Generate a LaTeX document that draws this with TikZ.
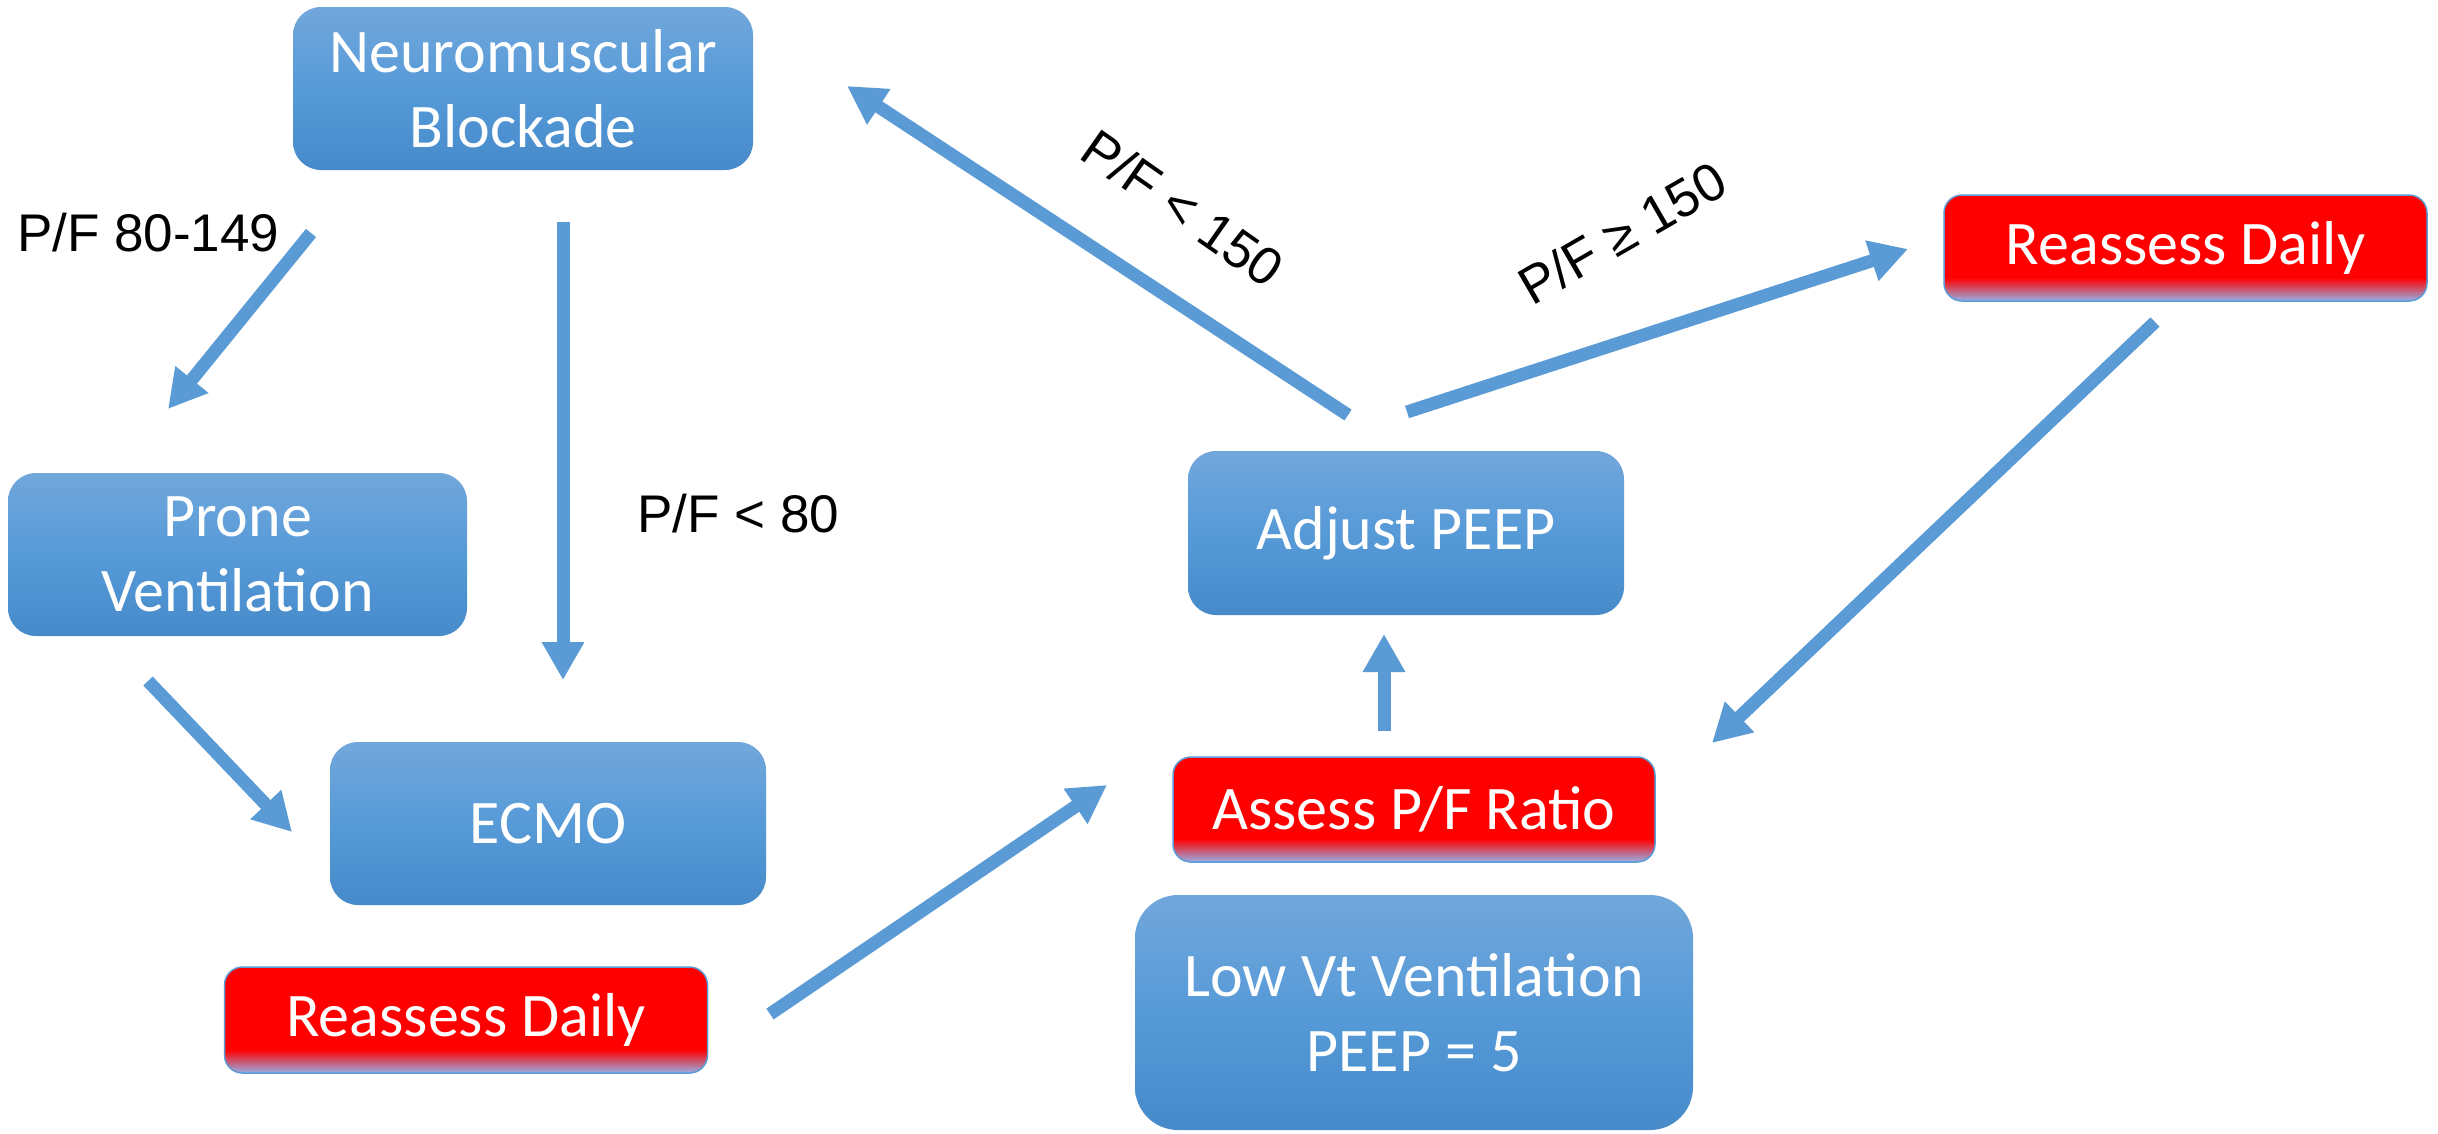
\documentclass[tikz,border=0pt]{standalone}
\usepackage{fontspec}
\setmainfont{Carlito}
\newfontfamily\labelfont{Liberation Sans}
\usetikzlibrary{arrows.meta}
\definecolor{arrowblue}{RGB}{91,155,213}
\definecolor{boxtop}{RGB}{114,167,219}
\definecolor{boxmid}{RGB}{86,154,216}
\definecolor{boxbot}{RGB}{70,138,202}
\definecolor{redbot}{RGB}{150,176,230}
\definecolor{pure red}{RGB}{255,0,0}
\pgfdeclareverticalshading{redfade}{100bp}{color(0bp)=(redbot); color(25bp)=(redbot); color(36bp)=(pure red); color(100bp)=(pure red)}
\begin{document}
\begin{tikzpicture}[x=1pt,y=-1pt,
  bluebox/.style={rectangle, rounded corners=28pt, top color=boxtop, bottom color=boxbot, middle color=boxmid,
    text=white, align=center, font=\fontsize{62}{75}\selectfont, inner sep=0pt},
  redbox/.style={rectangle, rounded corners=18pt, shade, shading=redfade, draw=arrowblue, line width=1.5pt,
    text=white, align=center, font=\fontsize{62}{75}\selectfont, inner sep=0pt},
  flow/.style={draw=arrowblue, line width=13pt, -{Triangle[length=38pt,width=40pt]}},
  lbl/.style={font=\labelfont\fontsize{53}{60}\selectfont, inner sep=0pt}]
\fill[white] (0,0) rectangle (2438,1133);
\useasboundingbox (0,0) rectangle (2438,1133);

% boxes
\node[bluebox, minimum width=460pt, minimum height=163pt] (nmb) at (523,88.5) {Neuromuscular\\Blockade};
\node[bluebox, minimum width=459pt, minimum height=163pt] (prone) at (237.5,554.5) {Prone\\Ventilation};
\node[bluebox, minimum width=436pt, minimum height=163pt] (ecmo) at (548,823.5) {ECMO};
\node[redbox, minimum width=483pt, minimum height=106pt] (rdl) at (466,1020) {Reassess Daily};
\node[bluebox, minimum width=436pt, minimum height=164pt] (peep) at (1406,533) {Adjust PEEP};
\node[redbox, minimum width=482pt, minimum height=105pt] (assess) at (1414,809.5) {Assess P/F Ratio};
\node[bluebox, rounded corners=43pt, minimum width=558pt, minimum height=235pt] (lowvt) at (1414,1012.5) {Low Vt Ventilation\\PEEP = 5};
\node[redbox, minimum width=483pt, minimum height=106pt] (rdr) at (2185.5,248) {Reassess Daily};

% labels
\node[lbl, anchor=base west] (l1) at (17,251) {P/F 80-149};
\node[lbl, anchor=base west] (l2) at (637,532) {P/F < 80};
\node[lbl, rotate=-35] (l3) at (1183,208) {P/F < 150};
\node[lbl, rotate=30] (l4) at (1622,233) {P/F ≥ 150};

% connector end points
\coordinate (a1s) at (311,233);  \coordinate (a1e) at (168,409);
\coordinate (a2s) at (563,222);  \coordinate (a2e) at (563,680);
\coordinate (a3s) at (148,681);  \coordinate (a3e) at (292,832);
\coordinate (a4s) at (770,1014); \coordinate (a4e) at (1107,785);
\coordinate (a5s) at (1384,731); \coordinate (a5e) at (1384,634);
\coordinate (a6s) at (1348,415); \coordinate (a6e) at (847,86);
\coordinate (a7s) at (1407,412); \coordinate (a7e) at (1908,249);
\coordinate (a8s) at (2155,322); \coordinate (a8e) at (1712,743);

\draw[flow] (a1s) -- (a1e);
\draw[flow] (a2s) -- (a2e);
\draw[flow] (a3s) -- (a3e);
\draw[flow] (a4s) -- (a4e);
\draw[flow] (a5s) -- (a5e);
\draw[flow] (a6s) -- (a6e);
\draw[flow] (a7s) -- (a7e);
\draw[flow] (a8s) -- (a8e);
\end{tikzpicture}
\end{document}
